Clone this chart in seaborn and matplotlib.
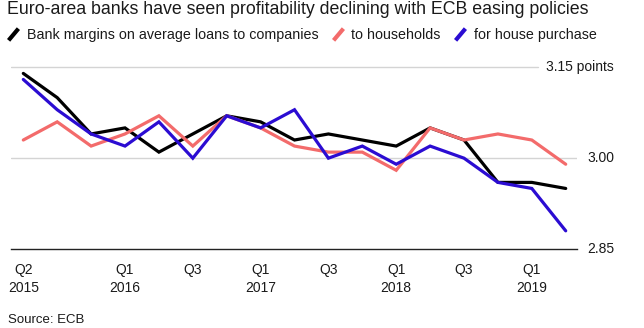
import numpy as np
import pandas as pd
import matplotlib
matplotlib.use("Agg")
import matplotlib.pyplot as plt
import seaborn as sns
from matplotlib.lines import Line2D
from matplotlib.transforms import blended_transform_factory

# Quarterly net interest margins (percentage points)
quarters = ["Q2 2015", "Q3 2015", "Q4 2015", "Q1 2016", "Q2 2016", "Q3 2016",
            "Q4 2016", "Q1 2017", "Q2 2017", "Q3 2017", "Q4 2017", "Q1 2018",
            "Q2 2018", "Q3 2018", "Q4 2018", "Q1 2019", "Q2 2019"]
companies = [3.14, 3.10, 3.04, 3.05, 3.01, 3.04, 3.07, 3.06, 3.03, 3.04,
             3.03, 3.02, 3.05, 3.03, 2.96, 2.96, 2.95]
households = [3.03, 3.06, 3.02, 3.04, 3.07, 3.02, 3.07, 3.05, 3.02, 3.01,
              3.01, 2.98, 3.05, 3.03, 3.04, 3.03, 2.99]
house_purchase = [3.13, 3.08, 3.04, 3.02, 3.06, 3.00, 3.07, 3.05, 3.08, 3.00,
                  3.02, 2.99, 3.02, 3.00, 2.96, 2.95, 2.88]

series_names = ["Bank margins on average loans to companies",
                "to households", "for house purchase"]
colors = ["#000000", "#f36b6b", "#2b0cd2"]

tick_idx = [0, 3, 5, 7, 9, 11, 13, 15]
tick_labels = ["Q2\n2015", "Q1\n2016", "Q3", "Q1\n2017", "Q3",
               "Q1\n2018", "Q3", "Q1\n2019"]
y_ticks = [2.85, 3.00, 3.15]
y_labels = ["2.85", "3.00", "3.15 points"]

title = "Euro-area banks have seen profitability declining with ECB easing policies"
source = "Source: ECB"

df = pd.DataFrame({
    "q": np.tile(np.arange(len(quarters)), 3),
    "value": companies + households + house_purchase,
    "series": np.repeat(series_names, len(quarters)),
})

sns.set_style("white")
plt.rcParams["font.family"] = ["Liberation Sans", "DejaVu Sans"]
text_color = "#1a1a1a"

W, H = 644, 328
fig = plt.figure(figsize=(W / 100, H / 100), dpi=100)
ax_left, ax_right = 11, 577
ax_bottom, ax_top = 249, 61.3
ax = fig.add_axes([ax_left / W, (H - ax_bottom) / H,
                   (ax_right - ax_left) / W, (ax_bottom - ax_top) / H])

# gridlines
ax.axhline(3.15, xmin=0, xmax=(538 - ax_left) / (ax_right - ax_left),
           color="#d4d4d4", lw=1.0, zorder=0)
ax.axhline(3.00, color="#d4d4d4", lw=1.0, zorder=0)

sns.lineplot(data=df, x="q", y="value", hue="series", hue_order=series_names,
             palette=colors, linewidth=2.3, legend=False, ax=ax,
             solid_joinstyle="miter")

ax.set_xlim(-0.363, 16.333)
ax.set_ylim(2.85, 3.16)
ax.set_xlabel("")
ax.set_ylabel("")
for s in ["top", "right", "left"]:
    ax.spines[s].set_visible(False)
ax.spines["bottom"].set_color("#222222")
ax.spines["bottom"].set_linewidth(1.0)
ax.set_yticks([])
ax.set_xticks(tick_idx)
ax.set_xticklabels(tick_labels, fontsize=10, color=text_color, linespacing=1.35)
ax.tick_params(axis="x", direction="out", length=4, width=1.0,
               color="#222222", pad=6)

# right-side value labels
trans = blended_transform_factory(fig.transFigure, ax.transData)
for v, lab in zip(y_ticks, y_labels):
    ax.text(614 / W, v, lab, transform=trans, ha="right", va="center",
            fontsize=10, color=text_color, clip_on=False)

fig.text(7 / W, 1 - 9 / H, title, ha="left", va="center",
         fontsize=12.8, color=text_color)

handles = [Line2D([0], [0], color=c, lw=0, marker=(2, 0, -40),
                  markersize=11, markeredgewidth=3, markeredgecolor=c)
           for c in colors]
fig.legend(handles, series_names, loc="center left",
           bbox_to_anchor=(6 / W, 1 - 35 / H), ncol=3, frameon=False,
           fontsize=10.3, handlelength=1.0, handletextpad=0.45,
           columnspacing=0.85, borderaxespad=0, borderpad=0,
           labelcolor=text_color)

fig.text(8 / W, 1 - 320 / H, source, ha="left", va="center",
         fontsize=9.5, color=text_color)

fig.savefig("out.png", dpi=100)
